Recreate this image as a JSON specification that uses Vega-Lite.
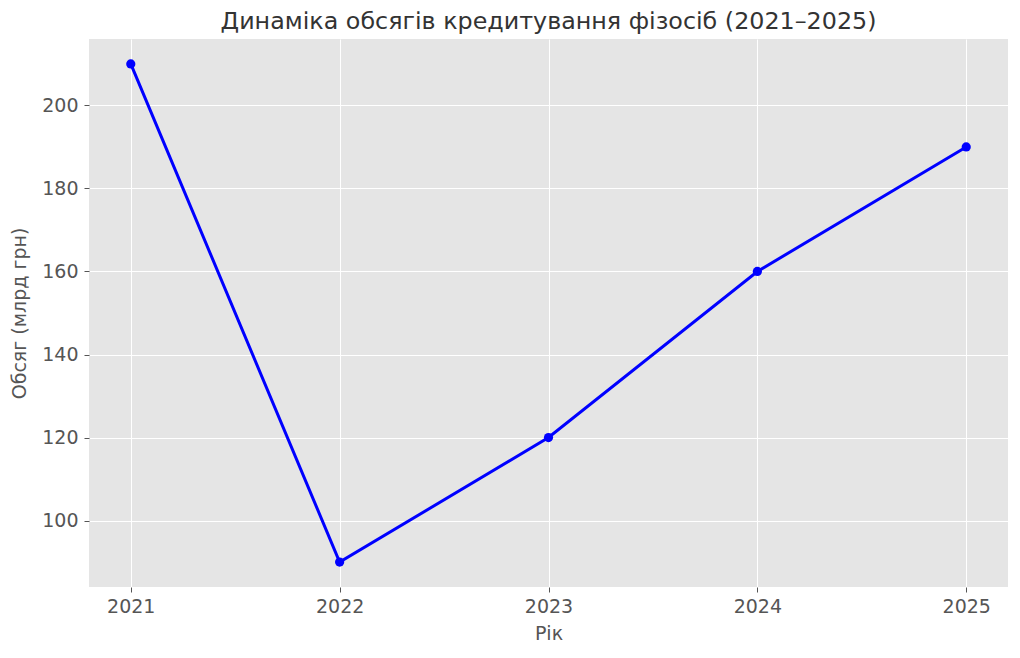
{
  "$schema": "https://vega.github.io/schema/vega-lite/v6.json",
  "autosize": {"type": "none"},
  "width": 919,
  "height": 548,
  "padding": {"left": 89, "top": 39, "right": 12, "bottom": 71},
  "background": "white",
  "title": {
    "text": "Динаміка обсягів кредитування фізосіб (2021–2025)",
    "font": "DejaVu Sans",
    "fontSize": 23.8,
    "fontWeight": "normal",
    "color": "#333333",
    "offset": 5,
    "anchor": "middle"
  },
  "config": {
    "view": {"fill": "#E5E5E5", "stroke": null},
    "axis": {
      "domain": false,
      "grid": true,
      "gridColor": "#FFFFFF",
      "gridWidth": 1,
      "tickColor": "#555555",
      "tickSize": 5,
      "tickWidth": 1,
      "labelFont": "DejaVu Sans",
      "labelFontSize": 19,
      "labelColor": "#555555",
      "titleFont": "DejaVu Sans",
      "titleFontSize": 19,
      "titleFontWeight": "normal",
      "titleColor": "#555555"
    }
  },
  "data": {
    "values": [
      {"year": 2021, "value": 210},
      {"year": 2022, "value": 90},
      {"year": 2023, "value": 120},
      {"year": 2024, "value": 160},
      {"year": 2025, "value": 190}
    ]
  },
  "encoding": {
    "x": {
      "field": "year",
      "type": "quantitative",
      "scale": {"domain": [2020.8, 2025.2], "nice": false, "zero": false},
      "axis": {"title": "Рік", "values": [2021, 2022, 2023, 2024, 2025], "format": "d", "labelPadding": 5, "titlePadding": 8}
    },
    "y": {
      "field": "value",
      "type": "quantitative",
      "scale": {"domain": [84, 216], "nice": false, "zero": false},
      "axis": {"title": "Обсяг (млрд грн)", "values": [100, 120, 140, 160, 180, 200], "labelPadding": 6, "titlePadding": 12}
    }
  },
  "layer": [
    {"mark": {"type": "line", "color": "#0000FF", "strokeWidth": 3}},
    {"mark": {"type": "point", "filled": true, "color": "#0000FF", "opacity": 1, "size": 85}}
  ]
}
